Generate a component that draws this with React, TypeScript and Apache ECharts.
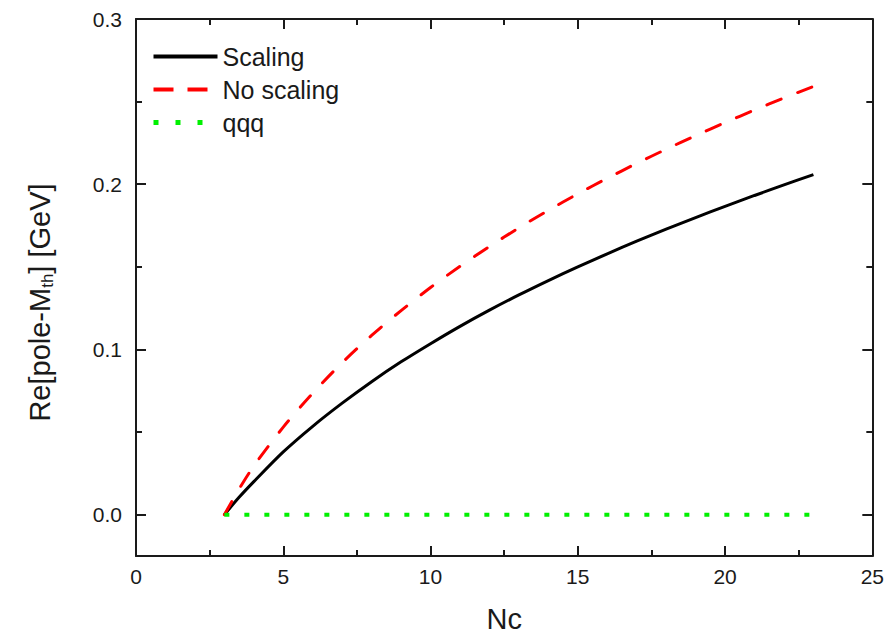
import React, { useEffect, useRef } from 'react';
import * as echarts from 'echarts';

// Nc values sampled along the curves
const ncValues = [3, 3.5, 4, 5, 6, 7, 8, 9, 10, 11, 12, 13, 14, 15, 16, 17, 18, 19, 20, 21, 22, 23];
// Re[pole - M_th] in GeV
const scalingValues = [0, 0.0105, 0.02, 0.038, 0.0535, 0.0675, 0.0805, 0.0925, 0.1035, 0.114, 0.1238, 0.133, 0.1417, 0.15, 0.1579, 0.1655, 0.1728, 0.1798, 0.1866, 0.1932, 0.1996, 0.2058];
const noScalingValues = [0, 0.0155, 0.0295, 0.053, 0.0735, 0.092, 0.1085, 0.1235, 0.1375, 0.1503, 0.1623, 0.1736, 0.1842, 0.1942, 0.2036, 0.2126, 0.2212, 0.2294, 0.2373, 0.2449, 0.2522, 0.2592];
const qqqNc = [3, 23];
const qqqValues = [0, 0];

const seriesNames = ['Scaling', 'No scaling', 'qqq'];
const yMajorTicks = [0, 0.1, 0.2, 0.3];
const yMinorTicks = [0.05, 0.15, 0.25];

const FONT = "Arial, 'Liberation Sans', Helvetica, sans-serif";
const INK = '#1a1a1a';
const BLACK = '#000000';
const RED = '#ff0000';
const GREEN = '#00f000';

export default function App() {
  const ref = useRef<HTMLDivElement>(null);

  useEffect(() => {
    document.body.style.margin = '0';
    const chart = echarts.init(ref.current!, null, { renderer: 'svg' });
    const line = { color: INK, width: 2 };

    const xAxis = (position: string, showLabel: boolean, name?: string) => ({
      type: 'value',
      position,
      min: 0,
      max: 25,
      interval: 5,
      name: name || '',
      nameLocation: 'middle',
      nameGap: 48,
      nameTextStyle: { fontSize: 29, fontFamily: FONT, color: INK },
      axisLine: { show: true, onZero: false, lineStyle: line },
      axisTick: { show: true, inside: true, length: 10, lineStyle: line },
      minorTick: { show: true, splitNumber: 2, length: 6, lineStyle: line },
      axisLabel: { show: showLabel, fontSize: 21, fontFamily: FONT, color: INK, margin: 10 },
      splitLine: { show: false },
      minorSplitLine: { show: false },
    });

    const yAxis = (
      position: string,
      ticks: number[],
      len: number,
      withLine: boolean,
      withLabel: boolean,
      name?: string
    ) => ({
      type: 'value',
      position,
      min: -0.025,
      max: 0.3,
      name: name || '',
      nameLocation: 'middle',
      nameGap: 80,
      nameTextStyle: {
        fontFamily: FONT,
        color: INK,
        rich: {
          a: { fontSize: 29, fontFamily: FONT, color: INK },
          s: { fontSize: 17, fontFamily: FONT, color: INK, padding: [16, 0, 0, 0] },
          e: { fontSize: 29, fontFamily: FONT, color: INK, padding: [0, 30, 0, 0] },
        },
      },
      axisLine: { show: withLine, onZero: false, lineStyle: line },
      axisTick: { show: true, inside: true, length: len, customValues: ticks, lineStyle: line },
      axisLabel: {
        show: withLabel,
        customValues: yMajorTicks,
        formatter: (v: number) => v.toFixed(1),
        fontSize: 21,
        fontFamily: FONT,
        color: INK,
        margin: 14,
      },
      splitLine: { show: false },
    });

    const pairs = (xs: number[], ys: number[]) => xs.map((x, i) => [x, ys[i]]);

    chart.setOption({
      animation: false,
      backgroundColor: '#ffffff',
      grid: { left: 136, right: 14, top: 19, bottom: 76 },
      legend: {
        orient: 'vertical',
        left: 151,
        top: 40,
        padding: 0,
        itemGap: 0,
        itemWidth: 64,
        itemHeight: 14,
        itemStyle: { opacity: 0, borderWidth: 0 },
        textStyle: { fontSize: 25, fontFamily: FONT, color: INK, lineHeight: 33 },
        data: [
          { name: seriesNames[0], lineStyle: { width: 4, color: BLACK } },
          { name: seriesNames[1], lineStyle: { width: 4, color: RED, type: [20, 14], cap: 'butt' } },
          { name: seriesNames[2], lineStyle: { width: 5, color: GREEN, type: [5, 17], cap: 'butt' } },
        ],
      },
      xAxis: [xAxis('bottom', true, 'Nc'), xAxis('top', false)],
      yAxis: [
        yAxis('left', yMajorTicks, 10, true, true, '{a|Re[pole-M}{s|th}{e|] [GeV]}'),
        yAxis('left', yMinorTicks, 6, false, false),
        yAxis('right', yMajorTicks, 10, true, false),
        yAxis('right', yMinorTicks, 6, false, false),
      ],
      series: [
        {
          name: seriesNames[0],
          type: 'line',
          xAxisIndex: 0,
          yAxisIndex: 0,
          data: pairs(ncValues, scalingValues),
          symbol: 'none',
          smooth: 0.3,
          color: BLACK,
          lineStyle: { color: BLACK, width: 3 },
        },
        {
          name: seriesNames[1],
          type: 'line',
          xAxisIndex: 0,
          yAxisIndex: 0,
          data: pairs(ncValues, noScalingValues),
          symbol: 'none',
          smooth: 0.3,
          color: RED,
          lineStyle: { color: RED, width: 3, type: [15, 18], cap: 'round' },
        },
        {
          name: seriesNames[2],
          type: 'line',
          xAxisIndex: 0,
          yAxisIndex: 0,
          data: pairs(qqqNc, qqqValues),
          symbol: 'none',
          color: GREEN,
          lineStyle: { color: GREEN, width: 4, type: [5, 15] },
        },
      ],
    });

    return () => chart.dispose();
  }, []);

  return <div ref={ref} style={{ position: 'absolute', left: 0, top: 0, width: 887, height: 638 }} />;
}
